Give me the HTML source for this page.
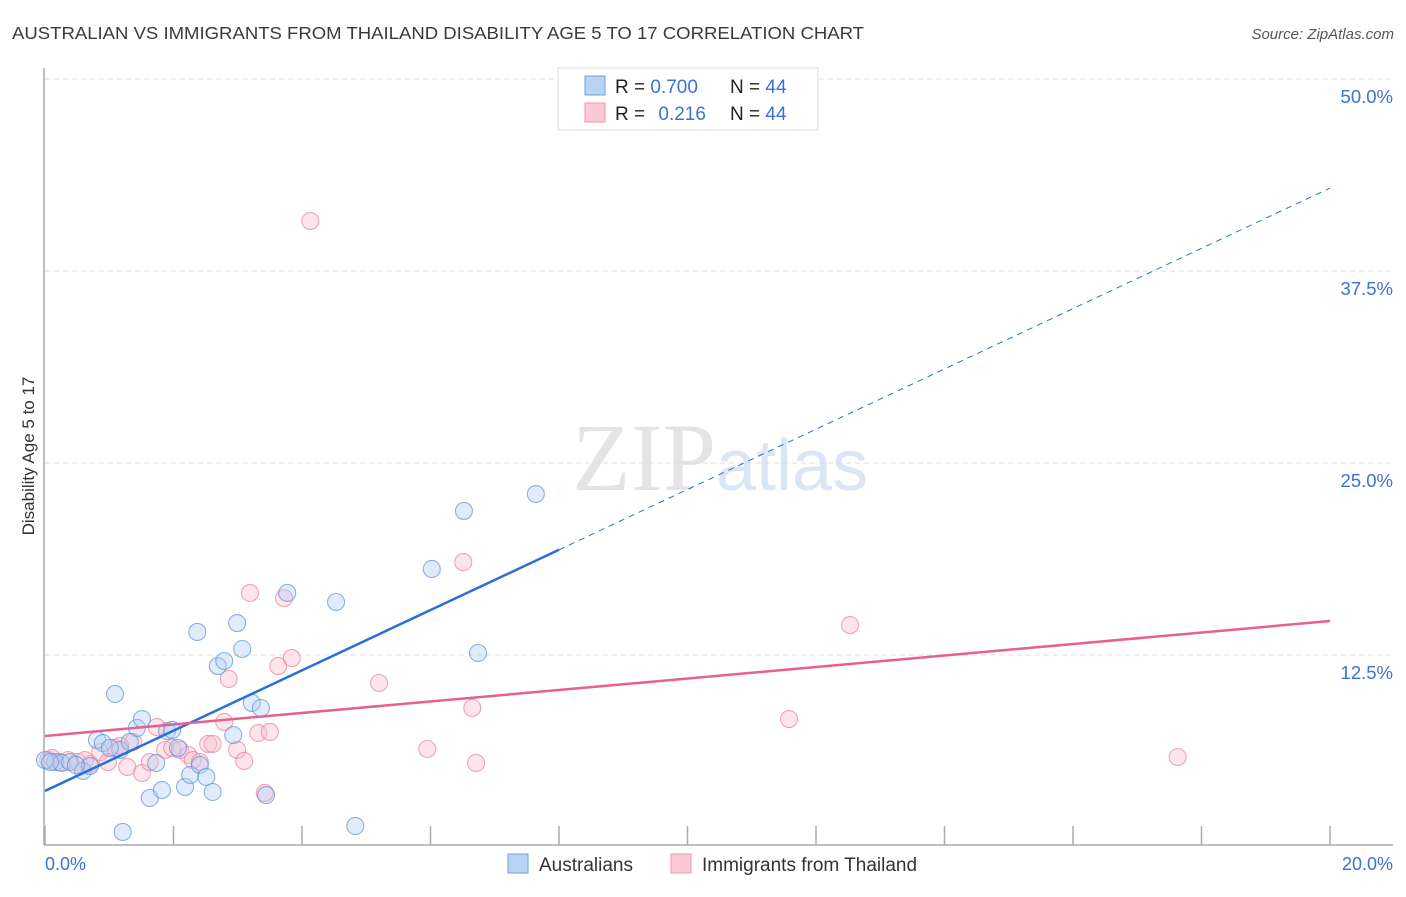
<!DOCTYPE html>
<html><head><meta charset="utf-8"><style>
body{margin:0;background:#fff;font-family:"Liberation Sans",sans-serif;}
</style></head><body>
<svg width="1406" height="892" xmlns="http://www.w3.org/2000/svg" style="font-family:'Liberation Sans',sans-serif">
<text x="12" y="39" font-size="17.5" fill="#3a3a3a" textLength="852" lengthAdjust="spacingAndGlyphs">AUSTRALIAN VS IMMIGRANTS FROM THAILAND DISABILITY AGE 5 TO 17 CORRELATION CHART</text>
<text x="1394" y="39" font-size="15" fill="#555" text-anchor="end" font-style="italic">Source: ZipAtlas.com</text>
<text x="716" y="490" font-size="96" fill="#e4e4e4" text-anchor="end" font-family="Liberation Serif,serif">ZIP</text>
<text x="716" y="490" font-size="72" fill="#dbe6f4">atlas</text>
<g id="grid"></g>
<g id="axes"></g>
<g id="pts"></g>
<g id="lines"></g>
<text transform="translate(34,456) rotate(-90)" font-size="17" fill="#333" text-anchor="middle">Disability Age 5 to 17</text>
<text x="45" y="870" font-size="18" fill="#3b73d1">0.0%</text>
<text x="1393" y="870" font-size="18" fill="#3b73d1" text-anchor="end">20.0%</text>
<g>
<rect x="558" y="68" width="260" height="62" fill="#fff" stroke="#ddd"/>
<rect x="585" y="76" width="20" height="19" fill="#b8d3f4" stroke="#6fa0e0"/>
<rect x="585" y="103" width="20" height="19" fill="#fcc9d7" stroke="#ec95ad"/>
<text x="615" y="93" font-size="19" fill="#222">R = <tspan fill="#3b73d1">0.700</tspan></text>
<text x="730" y="93" font-size="19" fill="#222">N = <tspan fill="#3b73d1">44</tspan></text>
<text x="615" y="120" font-size="19" fill="#222">R = <tspan fill="#3b73d1" dx="8">0.216</tspan></text>
<text x="730" y="120" font-size="19" fill="#222">N = <tspan fill="#3b73d1">44</tspan></text>
</g>
<g>
<rect x="508" y="854" width="20" height="19" fill="#b8d3f4" stroke="#6fa0e0"/>
<text x="539" y="871" font-size="19" fill="#333">Australians</text>
<rect x="671" y="854" width="20" height="19" fill="#fcc9d7" stroke="#ec95ad"/>
<text x="702" y="871" font-size="19" fill="#333">Immigrants from Thailand</text>
</g>
</svg>
<script>
const yTicks=[12.5,25,37.5,50];
const yTickLabels=["12.5%","25.0%","37.5%","50.0%"];
const xTicks=[0,2,4,6,8,10,12,14,16,18,20];
const blueX=[0.16,0.26,0.39,0.59,0.70,0.81,0.90,1.09,1.17,1.43,1.51,1.63,1.73,1.82,1.90,1.98,2.07,2.18,2.26,2.37,2.41,2.51,2.61,2.69,2.79,2.93,2.99,3.07,3.22,3.36,3.44,3.77,4.53,4.83,6.02,6.52,6.74,7.64,1.21,0.00,0.08,0.48,1.01,1.32];
const blueY=[5.53,5.47,5.53,4.95,5.27,6.97,6.77,9.96,6.32,7.75,8.33,3.19,5.47,3.71,7.55,7.62,6.45,3.91,4.69,14.00,5.34,4.56,3.58,11.78,12.11,7.29,14.58,12.89,9.38,9.05,3.38,16.54,15.95,1.37,18.10,21.88,12.63,22.98,0.98,5.66,5.53,5.34,6.45,6.84];
const pinkX=[0.05,0.23,0.36,0.51,0.70,0.86,0.98,1.09,1.28,1.37,1.51,1.63,1.74,1.87,1.98,2.10,2.23,2.30,2.54,2.61,2.79,2.86,2.99,3.10,3.19,3.32,3.50,3.42,3.63,3.72,3.84,4.13,5.20,5.95,6.51,6.65,6.71,11.58,12.53,17.63,0.11,0.62,1.17,2.41];
const pinkY=[5.66,5.53,5.66,5.53,5.40,6.18,5.53,6.45,5.21,6.84,4.82,5.53,7.81,6.32,6.45,6.32,5.99,5.66,6.71,6.71,8.14,10.94,6.32,5.60,16.54,7.42,7.49,3.52,11.78,16.21,12.30,40.76,10.68,6.38,18.55,9.05,5.47,8.33,14.45,5.86,5.79,5.66,6.58,5.53];
const blueFit=[3.65,42.9];
const pinkFit=[7.23,14.71];
const NS="http://www.w3.org/2000/svg";
const X=v=>45+v/20*1285, Y=v=>847-v/50*768;
function mk(t,a,p){const e=document.createElementNS(NS,t);for(const k in a)e.setAttribute(k,a[k]);document.getElementById(p).appendChild(e);return e;}
yTicks.forEach((t,i)=>{
 const g=mk('line',{x1:45,x2:1393,y1:Y(t),y2:Y(t),stroke:'#ddd','stroke-dasharray':'5,4'},'grid');
 
 
 const l=mk('text',{x:1393,y:Y(t)+24,'font-size':18.5,fill:'#3b73d1','text-anchor':'end'},'grid');
 l.textContent=yTickLabels[i];
 
 
});
const ax=mk('line',{x1:44,x2:1393,y1:845,y2:845,stroke:'#aaa','stroke-width':1.5},'axes');


const ay=mk('line',{x1:44,x2:44,y1:68,y2:845,stroke:'#aaa','stroke-width':1.5},'axes');


xTicks.forEach(t=>{
 const e=mk('line',{x1:X(t),x2:X(t),y1:826,y2:845,stroke:'#aaa','stroke-width':1.5},'axes');
 
 
});
function pts(xs,ys,fill,stroke,name){xs.forEach((x,i)=>{
 const c=mk('circle',{cx:X(x),cy:Y(ys[i]),r:8.5,fill:fill,'fill-opacity':0.4,stroke:stroke,'stroke-width':1.1,'stroke-opacity':0.7},'pts');
 
 
});}
pts(pinkX,pinkY,'#f9bfd0','#ec7fa0','point-thailand');
pts(blueX,blueY,'#b3cff2','#5b93dc','point-australians');
const b1=mk('line',{x1:X(0),y1:Y(blueFit[0]),x2:X(8),y2:Y(blueFit[0]+(blueFit[1]-blueFit[0])*0.4),stroke:'#2a6fd6','stroke-width':2.5},'lines');


const b2=mk('line',{x1:X(8),y1:Y(blueFit[0]+(blueFit[1]-blueFit[0])*0.4),x2:X(20),y2:Y(blueFit[1]),stroke:'#2a6fd6','stroke-width':1,'stroke-dasharray':'6,5'},'lines');


const p1=mk('line',{x1:X(0),y1:Y(pinkFit[0]),x2:X(20),y2:Y(pinkFit[1]),stroke:'#e8608d','stroke-width':2.5},'lines');


</script>
</body></html>
